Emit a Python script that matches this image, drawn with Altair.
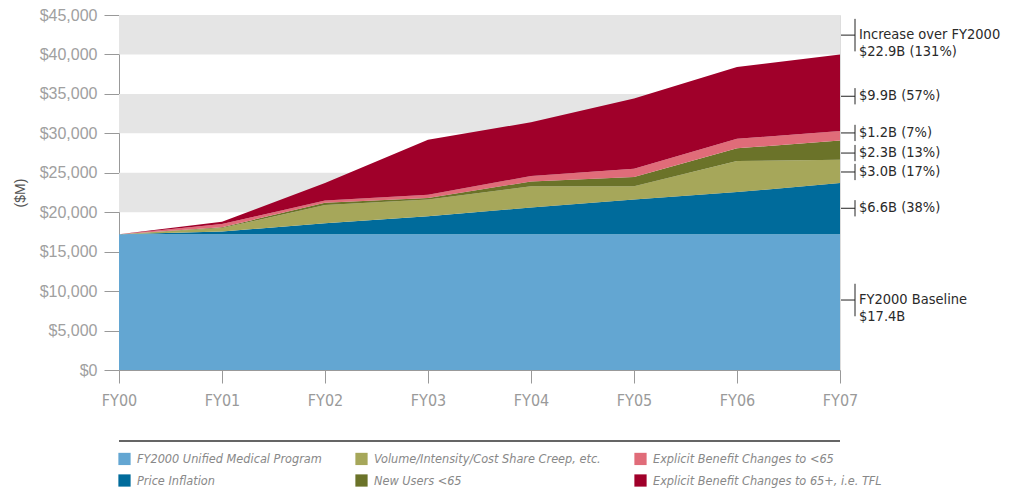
import altair as alt
import pandas as pd

years = ["FY00", "FY01", "FY02", "FY03", "FY04", "FY05", "FY06", "FY07"]
series = [
    "FY2000 Unified Medical Program",
    "Price Inflation",
    "Volume/Intensity/Cost Share Creep, etc.",
    "New Users <65",
    "Explicit Benefit Changes to <65",
    "Explicit Benefit Changes to 65+, i.e. TFL",
]
baseline = [17200, 17200, 17200, 17200, 17200, 17200, 17200, 17200]
price_inflation = [0, 350, 1400, 2300, 3400, 4400, 5350, 6500]
volume_creep = [0, 450, 2300, 2100, 2700, 1700, 3950, 2950]
new_users = [0, 100, 300, 200, 600, 1150, 1600, 2450]
benefit_lt65 = [0, 400, 300, 400, 700, 1050, 1200, 1200]
benefit_tfl = [0, 300, 2200, 7000, 6800, 8900, 9100, 9700]
colors = ["#63a6d2", "#006b9b", "#a6a75a", "#6b7329", "#e06c79", "#a0002a"]

y_ticks = [0, 5000, 10000, 15000, 20000, 25000, 30000, 35000, 40000, 45000]
band_lo = [0, 10000, 20000, 30000, 40000]
band_hi = [5000, 15000, 25000, 35000, 45000]

ann_labels = [
    "Increase over FY2000\n$22.9B (131%)",
    "$9.9B (57%)",
    "$1.2B (7%)",
    "$2.3B (13%)",
    "$3.0B (17%)",
    "$6.6B (38%)",
    "FY2000 Baseline\n$17.4B",
]
ann_y = [42450, 34700, 30050, 27500, 25100, 20500, 8870]
ann_lines = [2, 1, 1, 1, 1, 1, 2]

values = [baseline, price_inflation, volume_creep, new_users, benefit_lt65, benefit_tfl]
rows = []
for i, s in enumerate(series):
    for j, yr in enumerate(years):
        rows.append({"year": yr, "series": s, "value": values[i][j], "stack": i})
df = pd.DataFrame(rows)

W, H = 721, 355
COND = "Liberation Sans Narrow, DejaVu Sans Condensed, sans-serif"
yscale = alt.Scale(domain=[0, 45000], nice=False, zero=True)
YT = "($M)"

bands = alt.Chart(pd.DataFrame({"lo": band_lo, "hi": band_hi})).mark_rect(
    color="#e5e5e5"
).encode(
    x=alt.value(0),
    x2=alt.value(W),
    y=alt.Y("lo:Q", scale=yscale, title=YT),
    y2="hi:Q",
)

area = alt.Chart(df).mark_area(opacity=1).encode(
    x=alt.X(
        "year:O",
        sort=years,
        scale=alt.Scale(type="point", padding=0),
        title=None,
        axis=alt.Axis(
            labelAngle=0,
            tickSize=13,
            tickColor="#999999",
            domainColor="#999999",
            labelFont=COND,
            labelFontSize=16,
            labelColor="#9a9a9a",
            labelPadding=9,
            grid=False,
        ),
    ),
    y=alt.Y("value:Q", stack="zero", scale=yscale, title=YT),
    color=alt.Color(
        "series:N",
        scale=alt.Scale(domain=series, range=colors),
        legend=alt.Legend(
            title=None,
            orient="none",
            legendX=-1,
            legendY=437,
            columns=3,
            columnPadding=33,
            rowPadding=8,
            symbolType="square",
            symbolSize=150,
            symbolStrokeWidth=0,
            symbolOpacity=1,
            labelFont=COND,
            labelFontStyle="italic",
            labelFontSize=12.6,
            labelColor="#888888",
            labelOffset=6,
            labelLimit=400,
        ),
    ),
    order=alt.Order("stack:Q", sort="ascending"),
)

ann = pd.DataFrame({
    "label": ann_labels,
    "ly": ann_y,
    "ytop": [v + n * 1030 for v, n in zip(ann_y, ann_lines)],
    "ybot": [v - n * 1030 for v, n in zip(ann_y, ann_lines)],
})

ann_text = alt.Chart(ann).mark_text(
    align="left",
    baseline="middle",
    lineBreak="\n",
    lineHeight=17,
    font=COND,
    fontSize=14.5,
    color="#2a2a2a",
).encode(
    x=alt.value(W + 19),
    y=alt.Y("ly:Q", scale=yscale, title=YT),
    text="label:N",
)

ann_h = alt.Chart(ann).mark_rule(color="#222222", strokeWidth=1).encode(
    x=alt.value(W + 1),
    x2=alt.value(W + 15),
    y=alt.Y("ly:Q", scale=yscale, title=YT),
)

ann_v = alt.Chart(ann).mark_rule(color="#222222", strokeWidth=1).encode(
    x=alt.value(W + 15),
    y=alt.Y("ytop:Q", scale=yscale, title=YT),
    y2="ybot:Q",
)

legend_line = alt.Chart(ann).mark_rule(color="#666666", strokeWidth=1.5).encode(
    x=alt.value(0),
    x2=alt.value(W),
    y=alt.value(426),
)

chart = alt.layer(bands, area, ann_h, ann_v, ann_text, legend_line).properties(
    width=W,
    height=H,
    autosize=alt.AutoSizeParams(type="none"),
    padding={"left": 111, "top": 7, "right": 170, "bottom": 120},
).configure_view(stroke=None).configure(background="white").configure_axisY(
    values=y_ticks,
    format="$,.0f",
    grid=False,
    tickSize=15,
    tickColor="#999999",
    domainColor="#999999",
    labelFont="Liberation Sans",
    labelFontSize=16,
    labelColor="#a0a0a0",
    labelPadding=7,
    titleFont="Liberation Sans",
    titleFontSize=14,
    titleFontWeight="normal",
    titleColor="#555555",
    titlePadding=12,
)

chart.save("out.html", embed_options={"renderer": "svg", "actions": False})
